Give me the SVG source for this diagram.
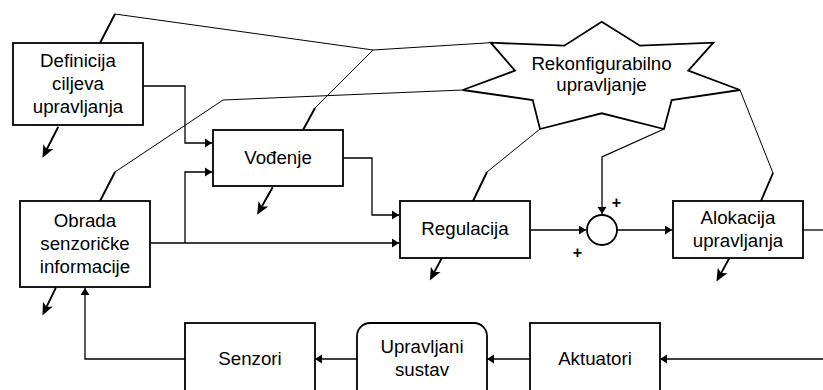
<svg xmlns="http://www.w3.org/2000/svg" width="823" height="390" viewBox="0 0 823 390">
<style>
.box{fill:#fff;stroke:#000;stroke-width:1.8}
.t{font-family:"Liberation Sans",Arial,sans-serif;font-size:18.7px;fill:#000;text-anchor:middle}
.c{fill:none;stroke:#000;stroke-width:1.3}
.thin{fill:none;stroke:#000;stroke-width:1}
.thk{fill:none;stroke:#000;stroke-width:1.9}
.plus{font-family:"Liberation Sans",Arial,sans-serif;font-size:16px;font-weight:bold;fill:#000;text-anchor:middle}
</style>
<defs>
<marker id="a" markerUnits="userSpaceOnUse" markerWidth="8" markerHeight="10" refX="7" refY="4.5" orient="auto" viewBox="0 0 8 9">
<path d="M0,0 L7,4.5 L0,9 z" fill="#000"/>
</marker>
<marker id="b" markerUnits="userSpaceOnUse" markerWidth="14" markerHeight="12" refX="3" refY="5.5" orient="auto" viewBox="0 0 14 11">
<path d="M0,0 L12.5,5.5 L0,11 L3,5.5 z" fill="#000"/>
</marker>
</defs>
<g id="connectors">
<path class="c" d="M143,86 H185 V143 H212" marker-end="url(#a)"/>
<path class="c" d="M150,243 H399" marker-end="url(#a)"/>
<path class="c" d="M185,243 V172 H212" marker-end="url(#a)"/>
<path class="c" d="M343,158 H372 V215 H399" marker-end="url(#a)"/>
<path class="c" d="M530,230 H586" marker-end="url(#a)"/>
<path class="c" d="M617,230 H672" marker-end="url(#a)"/>
<path class="c" d="M803,230 H823"/>
<path class="c" d="M823,359 H660" marker-end="url(#a)"/>
<path class="c" d="M530,359 H487" marker-end="url(#a)"/>
<path class="c" d="M357,359 H315" marker-end="url(#a)"/>
<path class="c" d="M185,359 H85 V288" marker-end="url(#a)"/>
<path class="c" d="M664,129 L602,157 V214" marker-end="url(#a)"/>
<path class="thin" d="M115,14 L373,50 L490.7,42.7"/>
<path class="thin" d="M373,50 L315,108"/>
<path class="thin" d="M115,172 L223,100 L462.7,90"/>
<path class="thin" d="M487,172 L540,129"/>
<path class="thin" d="M740,90 L773,173"/>
<path class="thk" d="M100,43 L115,14"/>
<path class="thk" d="M315,108 L303,130"/>
<path class="thk" d="M100,201 L115,172"/>
<path class="thk" d="M473,201 L487,172"/>
<path class="thk" d="M773,173 L761,201"/>
<path class="thk" d="M58.3,126.7 L46.8,149.3" marker-end="url(#b)"/>
<path class="thk" d="M272.7,187.3 L261.8,206.5" marker-end="url(#b)"/>
<path class="thk" d="M56,287.3 L46.6,306.9" marker-end="url(#b)"/>
<path class="thk" d="M441.7,258.3 L434.3,272.1" marker-end="url(#b)"/>
<path class="thk" d="M729.3,258.3 L721.1,273.1" marker-end="url(#b)"/>
</g>
<g id="definicija">
<rect class="box" x="13" y="43" width="130" height="82"/>
<text class="t" x="78" y="66.5">Definicija</text>
<text class="t" x="78" y="89.5">ciljeva</text>
<text class="t" x="78" y="112.5">upravljanja</text>
</g>
<g id="vodenje">
<rect class="box" x="213" y="130" width="130" height="56"/>
<text class="t" x="278" y="164">Vođenje</text>
</g>
<g id="obrada">
<rect class="box" x="20" y="201" width="130" height="86"/>
<text class="t" x="85" y="226.7">Obrada</text>
<text class="t" x="85" y="250">senzoričke</text>
<text class="t" x="85" y="273.3">informacije</text>
</g>
<g id="regulacija">
<rect class="box" x="400" y="201" width="130" height="57"/>
<text class="t" x="465" y="235">Regulacija</text>
</g>
<g id="suma">
<circle cx="602" cy="230" r="15" fill="#fff" stroke="#000" stroke-width="1.8"/>
<text class="plus" x="616.5" y="208">+</text>
<text class="plus" x="577.5" y="257.5">+</text>
</g>
<g id="alokacija">
<rect class="box" x="673" y="201" width="130" height="57"/>
<text class="t" x="738" y="224.3">Alokacija</text>
<text class="t" x="738" y="246.7">upravljanja</text>
</g>
<g id="rekonfigurabilno">
<polygon class="box" points="601.7,21.7 640,45.7 713.3,42.7 688.3,70.7 740,90 671.7,100 664,129 601.7,113.3 540,129 532.7,100 462.7,90 515,70.7 490.7,42.7 564.3,45.7"/>
<text class="t" x="601.5" y="70">Rekonfigurabilno</text>
<text class="t" x="601.5" y="90.5">upravljanje</text>
</g>
<g id="senzori">
<rect class="box" x="185" y="323" width="130" height="80"/>
<text class="t" x="250" y="365">Senzori</text>
</g>
<g id="upravljani">
<rect class="box" x="357" y="323" width="130" height="80" rx="13"/>
<text class="t" x="422" y="353.3">Upravljani</text>
<text class="t" x="422" y="375.5">sustav</text>
</g>
<g id="aktuatori">
<rect class="box" x="530" y="323" width="130" height="80"/>
<text class="t" x="595" y="365">Aktuatori</text>
</g>
</svg>
